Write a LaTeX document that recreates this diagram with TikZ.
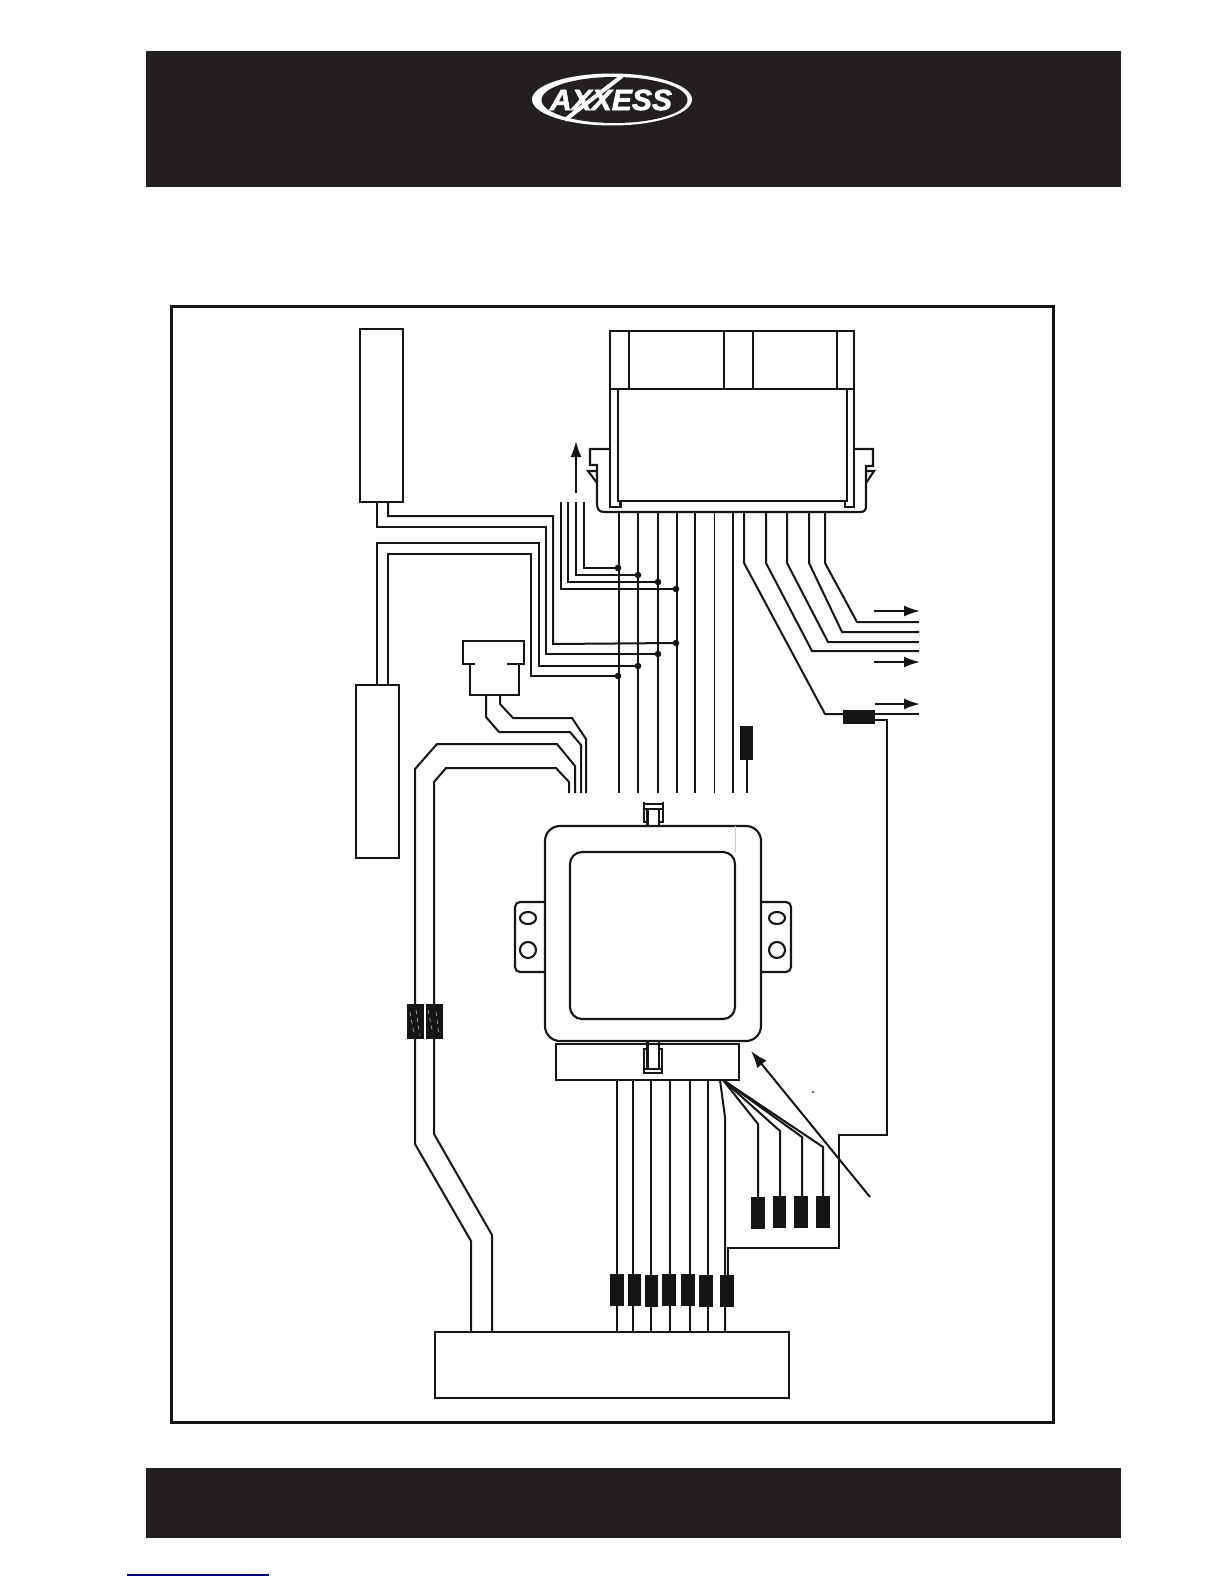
\documentclass[tikz,border=0pt]{standalone}
\usepackage{fontspec}
\usepackage{graphicx}
\setmainfont{Liberation Sans}
\newfontfamily\logofont[BoldItalicFeatures={FakeBold=2}]{Liberation Sans}
\usetikzlibrary{arrows.meta}
\definecolor{band}{HTML}{231F20}
\definecolor{ink}{HTML}{161515}
% node from corner to corner: \cbox[style]{name}{x1}{y1}{x2}{y2}
\newcommand{\cbox}[6][boxnode]{%
  \pgfmathsetmacro{\cbw}{(#5-#3)*0.5}%
  \pgfmathsetmacro{\cbh}{(#6-#4)*0.5}%
  \pgfmathsetmacro{\cbx}{(#3+#5)/2}%
  \pgfmathsetmacro{\cby}{(#4+#6)/2}%
  \node[#1,minimum width=\cbw pt,minimum height=\cbh pt] (#2) at (\cbx,\cby) {};}
\tikzset{
  wire/.style={draw=ink,line width=1pt,line join=miter},
  thinwire/.style={draw=ink,line width=0.55pt},
  outline/.style={draw=ink,line width=1.05pt},
  boxnode/.style={draw=ink,line width=1.1pt,inner sep=0pt,outer sep=0pt,rectangle},
  block/.style={fill=ink,inner sep=0pt,outer sep=0pt,rectangle},
  bandnode/.style={fill=band,inner sep=0pt,outer sep=0pt,rectangle},
  dotnode/.style={fill=ink,circle,inner sep=0pt,outer sep=0pt,minimum size=3.3pt},
  pointer/.style={wire,-{Latex[length=8pt,width=5.5pt]}},
}
\begin{document}
\begin{tikzpicture}[x=0.5pt,y=-0.5pt]
\useasboundingbox (0,0) rectangle (1224,1584);
\fill[white] (0,0) rectangle (1224,1584);

% bands and frame
\cbox[bandnode]{topband}{146}{51}{1121}{187}
\cbox[bandnode]{botband}{146}{1468}{1121}{1538}
\cbox[boxnode,line width=1.6pt]{frame}{171.5}{306.5}{1053.5}{1422.5}
\draw[draw=blue!50!black,line width=0.8pt] (127,1575) -- (269,1575);

% logo
\fill[white] (612,99.5) ellipse [x radius=80,y radius=26];
\fill[band] (614.5,100) ellipse [x radius=73,y radius=23];
\draw[white,line width=2pt] (622,76) -- (565,120);
\node[text=white,inner sep=0pt,font=\fontsize{14.6}{15}\selectfont\logofont\bfseries\itshape] (logotext) at (611,100) {\scalebox{1.03}[1]{AXXESS}};

% left boxes, small connector, bottom box
\cbox{boxA}{360}{329}{403}{502}
\cbox{boxB}{356}{685}{399}{858}
\cbox{plugtop}{463}{641}{524}{664}
\fill[white] (475,663) rectangle (507,665.5);
\draw[outline] (470,664) -- (470,695) -- (519,695) -- (519,664);
\cbox{bigbox}{435}{1332}{789}{1398}

% dots
\foreach \n/\x/\y in {a/618/568,b/638/575,c/658/582,d/676/589,e/676/643,f/658/654,g/638/666,h/618/676}
  \node[dotnode] (dot\n) at (\x,\y) {};

% harness connector
\cbox{hctop}{610}{331}{854}{389}
\draw[outline] (629,331) -- (629,389) (724,331) -- (724,389) (753,331) -- (753,389) (837,331) -- (837,389);
\draw[outline] (610,389) -- (610,507) -- (620.5,507) -- (620.5,501);
\draw[outline] (854,389) -- (854,507) -- (845,507) -- (845,501);
\draw[outline] (618,389) -- (618,501) -- (847,501) -- (847,389);
\draw[outline] (610,449) -- (590,449) -- (590,465) -- (597,465) -- (597,502) .. controls (597,510) and (599,512) .. (605,512) -- (860,512) .. controls (865,512) and (866,510) .. (866,505) -- (866,466) -- (873,466) -- (873,449) -- (854,449);
\draw[outline] (597,471) -- (588,471) -- (597,483);
\draw[outline] (866,471) -- (874,471) -- (866,483);

% straight wires harness -> module
\foreach \i/\x in {1/619,2/638,3/658,4/677,5/695,7/733}{
  \coordinate (ht\i) at (\x,512);
  \coordinate (hb\i) at (\x,793);
  \draw[wire] (ht\i) -- (hb\i);
}
\coordinate (ht6) at (714.5,512);
\coordinate (hb6) at (714.5,793);
\draw[thinwire] (ht6) -- (hb6);

% stub with block
\cbox[block]{stub}{740}{726}{753}{760}
\coordinate (stubend) at (746.5,793);
\draw[wire] (stub.south) -- (stubend);

% bent wires to the right
\foreach \n/\x/\ex/\ey in {a/825/857/622,b/809/842/632,c/787/828/642,d/766/812/651}{
  \coordinate (bt\n) at (\x,512);
  \coordinate (be\n) at (919,\ey);
  \draw[wire] (bt\n) -- (\x,563) -- (\ex,\ey) -- (be\n);
}
\cbox[block]{inline}{843}{710}{875}{724}
\coordinate (bte) at (744,512);
\coordinate (inlin) at (843,714);
\coordinate (inlout) at (875,714);
\coordinate (inlret) at (875,720);
\coordinate (ende) at (919,714);
\draw[wire] (bte) -- (744,563) -- (825,714) -- (inlin);
\draw[wire] (inlout) -- (ende);

% label arrows
\coordinate (pa1) at (874,611); \coordinate (pa2) at (920,611);
\coordinate (pb1) at (874,662); \coordinate (pb2) at (920,662);
\coordinate (pc1) at (875,704); \coordinate (pc2) at (920,704);
\coordinate (pd1) at (576,493); \coordinate (pd2) at (576,441);
\draw[pointer] (pa1) -- (pa2);
\draw[pointer] (pb1) -- (pb2);
\draw[pointer] (pc1) -- (pc2);
\draw[pointer] (pd1) -- (pd2);

% short wires to dots
\foreach \n/\x/\y in {a/584/568,b/576/575,c/568/582,d/561/589}{
  \coordinate (st\n) at (\x,502);
  \draw[wire] (st\n) -- (\x,\y) -- (dot\n.center);
}

% box A and B wires to dots and lines
\coordinate (aa) at (377,502);
\coordinate (ab) at (388,502);
\draw[wire] (aa) -- (377,527) -- (546,527) -- (546,654) -- (dotf.center);
\draw[wire] (ab) -- (388,516) -- (553,516) -- (553,644) -- (dote.center);
\coordinate (ba) at (377,685);
\coordinate (bb) at (388,685);
\draw[wire] (ba) -- (377,543) -- (539,543) -- (539,666) -- (dotg.center);
\draw[wire] (bb) -- (388,554) -- (531,554) -- (531,676) -- (doth.center);

% small connector wires
\coordinate (pl1) at (486,695); \coordinate (pl1e) at (581,793);
\coordinate (pl2) at (500,695); \coordinate (pl2e) at (586,793);
\draw[wire] (pl1) -- (486,717) -- (499,732) -- (570,732) -- (581,745) -- (pl1e);
\draw[wire] (pl2) -- (500,704) -- (513,718) -- (572,718) -- (586,739) -- (pl2e);

% long pair
\coordinate (lp1t) at (575,793); \coordinate (lp1b) at (471,1332);
\coordinate (lp2t) at (569,793); \coordinate (lp2b) at (492,1332);
\draw[wire] (lp1t) -- (575,766) -- (557,744) -- (437,744) -- (415,769) -- (415,1144) -- (471,1241) -- (lp1b);
\draw[wire] (lp2t) -- (569,782) -- (556,768) -- (446,768) -- (434,782) -- (434,1134) -- (492,1235) -- (lp2b);
\cbox[block]{twin1}{407}{1004}{424}{1039}
\cbox[block]{twin2}{426}{1004}{443}{1039}
\draw[gray!60,line width=0.3pt,dash pattern=on 2pt off 2pt] (410,1012) -- (414,1034) (416,1010) -- (420,1036) (428,1010) -- (433,1034) (436,1012) -- (439,1036);

% module
\draw[outline,rounded corners=7.5pt] (545,826) rectangle (761,1041);
\draw[outline,rounded corners=6pt] (570,852) rectangle (735,1019);
\draw[gray!40,line width=0.4pt] (735,826) -- (735,852);
\draw[outline,rounded corners=2.5pt] (545,902) -- (515,902) -- (515,972) -- (545,972);
\draw[outline,rounded corners=2.5pt] (761,902) -- (791,902) -- (791,972) -- (761,972);
\draw[outline] (528,918) ellipse [x radius=8,y radius=6];
\draw[outline] (528,950) circle [radius=8];
\draw[outline] (777,918) ellipse [x radius=8,y radius=6];
\draw[outline] (777,950) circle [radius=8];
% top clip
\draw[outline] (644,802) -- (644,822) -- (647.5,822) -- (647.5,826) (663,802) -- (663,822) -- (659,822) -- (659,826);
\draw[outline] (644,804) -- (663,804) (644,809) -- (663,809) (647.5,809) -- (647.5,822) (659,809) -- (659,822);

% lower connector
\cbox{lconn}{556}{1044}{739}{1080}
\draw[outline] (647.5,1041) -- (647.5,1069) (659,1041) -- (659,1069);
\draw[outline] (647.5,1049) -- (644,1049) -- (644,1073) -- (662,1073) -- (662,1049) -- (659,1049);
\draw[line width=0.7pt,draw=ink] (644,1069) -- (662,1069);

% wires below
\foreach \i/\x in {1/617,2/633,3/651,4/670,5/690,6/708}{
  \coordinate (lt\i) at (\x,1080);
  \coordinate (lb\i) at (\x,1332);
  \draw[wire] (lt\i) -- (lb\i);
}
\coordinate (lt7) at (720,1080);
\coordinate (lb7) at (725,1332);
\draw[wire] (lt7) -- (725,1117) -- (lb7);
\cbox[block]{w1}{610}{1274}{624}{1306}
\cbox[block]{w2}{628}{1274}{641}{1306}
\cbox[block]{w3}{645}{1275}{658}{1307}
\cbox[block]{w4}{662}{1274}{676}{1306}
\cbox[block]{w5}{681}{1274}{695}{1306}
\cbox[block]{w6}{699}{1275}{713}{1307}
\cbox[block]{w7}{720}{1275}{734}{1307}

% fan wires
\coordinate (fan) at (723,1080);
\cbox[block]{f1}{751}{1197}{765}{1229}
\cbox[block]{f2}{773}{1196}{786}{1228}
\cbox[block]{f3}{794}{1196}{808}{1228}
\cbox[block]{f4}{816}{1196}{830}{1228}
\draw[wire] (fan) -- (758,1124) -- (758,1197);
\draw[wire] (fan) -- (780,1131) -- (780,1196);
\draw[wire] (fan) -- (802,1137) -- (802,1196);
\draw[wire] (fan) -- (823,1147) -- (823,1196);

% long return wire
\draw[wire,line join=miter] (inlret) -- (887,720) -- (887,1135) -- (839,1135) -- (839,1248) -- (728,1248) -- (728,1275);

% big pointer
\coordinate (bp1) at (870,1197);
\coordinate (bp2) at (751,1051);
\draw[wire,-{Latex[length=8.5pt,width=6pt]}] (bp1) -- (bp2);
\fill[ink] (813,1092) circle (0.5pt);
\end{tikzpicture}
\end{document}
